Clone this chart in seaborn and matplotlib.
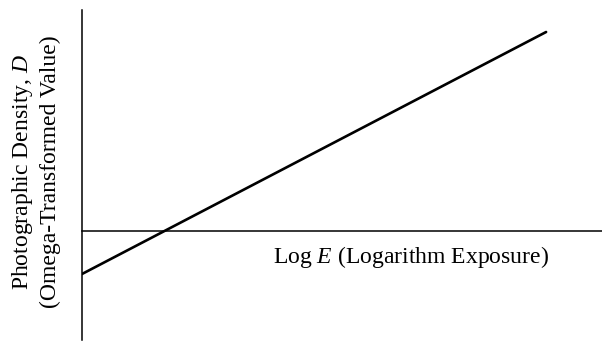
import matplotlib
matplotlib.use("Agg")
import matplotlib.pyplot as plt
import seaborn as sns
import pandas as pd

# Characteristic curve: straight-line region of density vs. log exposure
log_exposure = [0.0, 3.57]
density = [-0.43, 1.99]

x_label = "Log $E$ (Logarithm Exposure)"
y_label_lines = ["Photographic Density, $D$", "(Omega-Transformed Value)"]

sns.set_theme(style="white")
plt.rcParams["font.family"] = ["Liberation Serif", "DejaVu Serif"]
plt.rcParams["mathtext.fontset"] = "custom"
plt.rcParams["mathtext.rm"] = "Liberation Serif"
plt.rcParams["mathtext.it"] = "Liberation Serif:italic"

W, H = 602, 342
fig = plt.figure(figsize=(W / 100, H / 100), dpi=100)
ax = fig.add_axes([82 / W, (H - 340) / H, (602 - 82) / W, 330 / H])

df = pd.DataFrame({"logE": log_exposure, "D": density})
sns.lineplot(data=df, x="logE", y="D", ax=ax, color="black", linewidth=1.9)

ax.set_xlim(0, 4.0)
ax.set_ylim(-1.09, 2.21)

for side in ("top", "right"):
    ax.spines[side].set_visible(False)
ax.spines["bottom"].set_position(("data", 0))
for side in ("left", "bottom"):
    ax.spines[side].set_color("black")
    ax.spines[side].set_linewidth(1.1)
ax.set_xticks([])
ax.set_yticks([])
ax.set_xlabel("")
ax.set_ylabel("")

ax.text(2.53, -0.255, x_label, ha="center", va="center", fontsize=17, color="black")

fig.text(22.5 / W, 1 - 172 / H, y_label_lines[0], rotation=90, ha="center", va="center",
         fontsize=17, color="black")
fig.text(50 / W, 1 - 172 / H, y_label_lines[1], rotation=90, ha="center", va="center",
         fontsize=17, color="black")

fig.savefig("out.png", dpi=100, facecolor="white")
